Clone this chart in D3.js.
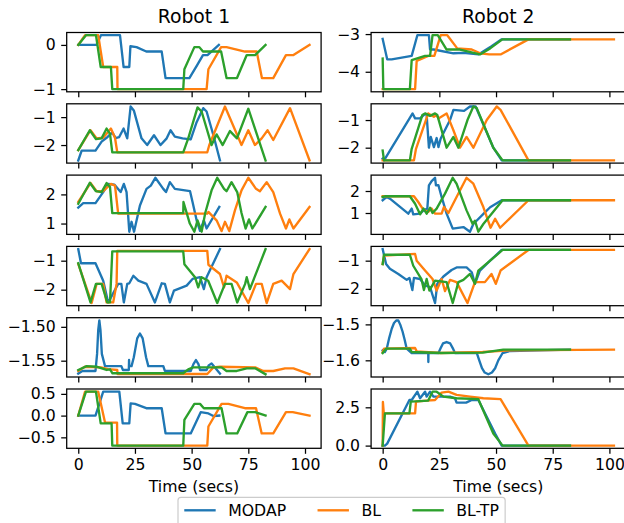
<!DOCTYPE html>
<html><head><meta charset="utf-8">
<script src="https://cdn.jsdelivr.net/npm/d3@7"></script>
<style>
html,body{margin:0;padding:0;background:#fff;}
svg{display:block;font-family:"DejaVu Sans",sans-serif;}
</style></head>
<body><svg id="c" width="624" height="523"></svg>
<script>
// ---------- data ----------
const seriesNames = ["MODAP","BL","BL-TP"];
const colors = ["#1f77b4","#ff7f0e","#2ca02c"];
const columnTitles = ["Robot 1","Robot 2"];
const xTicks = [0,25,50,75,100];
const xLabel = "Time (secs)";

// Robot 1
const r1p1_MODAP = [[0,0],[8,0],[10,0.22],[18.4,0.22],[20,-0.5],[22.5,-0.5],[23,-0.03],[25.7,-0.05],[30,-0.15],[36.8,-0.15],[38.5,-0.75],[49,-0.75],[52.5,-0.45],[55,-0.23],[57,-0.23],[62,0]];
const r1p1_BL = [[0,0],[3,0.22],[8.8,0.22],[11,-0.5],[17.2,-0.5],[17.3,-1],[56.6,-1],[57.4,-0.55],[63,-0.05],[65.4,-0.05],[73.5,-0.15],[78.7,-0.15],[81,-0.75],[86,-0.75],[91.6,-0.23],[94.9,-0.23],[102,0]];
const r1p1_BLTP = [[0,0],[3.4,0.22],[7.8,0.22],[9.9,-0.5],[14.4,-0.5],[15,-1],[46.3,-1],[46.8,-0.55],[51.2,-0.05],[53.4,-0.05],[55,-0.15],[63,-0.15],[65.4,-0.75],[70,-0.75],[74.3,-0.23],[78,-0.23],[82.6,0]];
const r1p1_yticks = [0,-1], r1p1_ylabels = ["0","\u22121"];

const r1p2_MODAP = [[0,-2.55],[1.5,-2.2],[7.6,-2.2],[10.3,-1.88],[12.5,-1.74],[15,-1.55],[16.5,-1.75],[18,-1.72],[20,-1.41],[21.6,-1.76],[23.1,-0.62],[24.5,-0.76],[27.9,-1.76],[30.4,-2],[33.4,-1.65],[36.3,-2],[39,-1.76],[40.7,-1.47],[42.6,-1.7],[46,-1.76],[49.6,-1.8],[52.2,-1.18],[55.1,-0.68],[56.6,-0.8],[59.6,-1.65],[62.5,-2.55]];
const r1p2_BL = [[0,-2.18],[5.4,-1.47],[8.1,-1.76],[11,-1.74],[14.4,-1.41],[16.2,-1.74],[17.2,-2.26],[56.9,-2.26],[57.8,-2],[64.7,-0.62],[72,-2],[75,-1.47],[77.9,-2],[80.9,-1.76],[83.5,-1.47],[86,-1.82],[93.4,-0.68],[102,-2.55]];
const r1p2_BLTP = [[0,-2.18],[5.1,-1.47],[7.8,-1.79],[10.3,-1.76],[12.5,-1.41],[14,-1.6],[15,-2.26],[46.3,-2.26],[48.5,-1.76],[52.6,-0.65],[54.4,-0.8],[58.8,-2],[61,-1.62],[63.7,-2],[66.9,-1.5],[70,-1.76],[75,-0.7],[82.6,-2.55]];
const r1p2_yticks = [-1,-2], r1p2_ylabels = ["\u22121","\u22122"];

const r1p3_MODAP = [[0,1.55],[2.2,1.7],[7.6,1.7],[11,2.08],[13.2,2.36],[16,2.33],[18.7,2.08],[20.1,2.36],[21.3,2.08],[22.5,0.72],[23.5,1.06],[24.6,0.72],[27.2,1.62],[30.1,2.19],[32,2.3],[34,2.57],[37.5,2.19],[38.7,2.08],[40.4,2.42],[42.6,2.19],[49.3,2.11],[50.4,1.74],[52.2,1.11],[53.7,0.75],[55.4,1.11],[56.6,0.83],[62.2,1.57]];
const r1p3_BL = [[0,1.74],[5.4,2.39],[8.1,2.11],[11,2.11],[14.4,2.36],[16.2,2.3],[17.6,1.34],[56.9,1.34],[57.4,1.4],[61,1.11],[63.2,0.74],[64.7,1.06],[66.6,0.74],[69.1,1.45],[72,2.14],[75,2.57],[78.4,2.19],[80.1,2.11],[83.1,2.42],[86,2.08],[89,1.34],[91.6,0.83],[93.1,1.14],[94.9,0.83],[102,1.57]];
const r1p3_BLTP = [[0,1.68],[5.1,2.4],[7.8,2.11],[10.3,2.08],[12.5,2.39],[14,2.25],[15,1.36],[46.3,1.36],[46.4,1.74],[49.2,1.0],[51.2,0.72],[52.6,1.11],[54.4,0.72],[56,1.36],[58.8,2.14],[61.3,2.57],[64.3,2.19],[65.4,2.11],[67.6,2.42],[70.1,2.08],[72,1.36],[73.8,0.83],[75.3,1.14],[76.8,0.83],[82.6,1.57]];
const r1p3_yticks = [2,1], r1p3_ylabels = ["2","1"];

const r1p4_MODAP = [[0,-0.6],[1.2,-1.09],[7.6,-1.09],[11,-1.69],[13.2,-2.44],[14,-2.33],[17.6,-1.8],[19,-1.8],[20.1,-2.44],[21.6,-1.8],[22.5,-1.78],[24.3,-1.52],[26.5,-1.69],[30.1,-1.8],[33.8,-2.44],[36.8,-1.78],[38.2,-1.8],[40.4,-2.44],[42.2,-2.03],[47.8,-1.86],[50.4,-1.63],[53.7,-1.57],[55.4,-1.98],[56.6,-1.57],[62.5,-0.6]];
const r1p4_BL = [[0,-1.11],[5.9,-2.46],[8.1,-1.8],[11,-1.8],[12.5,-2.44],[15.4,-2.44],[16.9,-1.8],[17.2,-0.66],[56.9,-0.66],[57.4,-1.14],[62.5,-1.46],[64.3,-1.92],[65.4,-1.52],[69.9,-1.75],[75,-2.46],[78.4,-1.8],[80.9,-1.8],[83.1,-2.46],[86,-1.8],[89.7,-1.69],[93.4,-1.98],[94.9,-1.46],[102,-0.6]];
const r1p4_BLTP = [[0,-1.09],[5.4,-2.44],[7.8,-1.8],[10.3,-1.8],[12.8,-2.44],[14,-2.44],[15,-0.68],[46.3,-0.68],[46.8,-1.12],[51.5,-1.57],[52.9,-1.92],[54.4,-1.57],[57.3,-1.69],[61.3,-2.46],[64.7,-1.8],[67.6,-1.8],[70.1,-2.44],[73.6,-1.8],[74.3,-1.57],[75.7,-1.98],[82.6,-0.6]];
const r1p4_yticks = [-1,-2], r1p4_ylabels = ["\u22121","\u22122"];

const r1p5_MODAP = [[0,-1.569],[1.8,-1.5652],[7.6,-1.5652],[8.3,-1.54],[8.8,-1.505],[9.3,-1.4905],[9.8,-1.505],[10.4,-1.54],[11.8,-1.558],[19,-1.558],[19.7,-1.5637],[22.3,-1.5637],[22.4,-1.549],[22.5,-1.558],[23.5,-1.558],[24.5,-1.545],[26,-1.517],[27.2,-1.5098],[28.4,-1.517],[29.9,-1.545],[30.9,-1.558],[37.5,-1.558],[38.2,-1.5652],[49.6,-1.5652],[50.8,-1.555],[51.9,-1.549],[53,-1.555],[53.7,-1.5637],[56.6,-1.5637],[57.5,-1.557],[58.8,-1.554],[60,-1.559],[62.5,-1.569]];
const r1p5_BL = [[0,-1.5652],[2.9,-1.559],[10,-1.5598],[13.2,-1.5625],[17.2,-1.5637],[17.3,-1.5696],[56.9,-1.5696],[59.6,-1.5598],[62.5,-1.559],[78,-1.5598],[81.6,-1.5652],[86,-1.5652],[91.2,-1.5613],[94.9,-1.5613],[102,-1.5701]];
const r1p5_BLTP = [[0,-1.5637],[3.7,-1.558],[8.3,-1.559],[12.5,-1.5637],[14,-1.5627],[15.1,-1.5686],[46.3,-1.5686],[48.5,-1.5627],[50.7,-1.5598],[63.2,-1.5598],[65.4,-1.5652],[69.9,-1.5652],[74.3,-1.5613],[78,-1.5613],[82.6,-1.5701]];
const r1p5_yticks = [-1.50,-1.55], r1p5_ylabels = ["\u22121.50","\u22121.55"];

const r1p6_MODAP = [[0,0],[7.6,0],[11,0.55],[18.1,0.55],[19.6,-0.18],[22.5,-0.18],[23.1,0.28],[25,0.27],[30,0.17],[36.8,0.17],[38.5,-0.41],[49.6,-0.41],[54,0.08],[57.4,0.05],[59.6,-0.01],[62.2,0]];
const r1p6_BL = [[0,0],[3,0.55],[8.8,0.55],[11.8,-0.16],[17.1,-0.16],[17.2,-0.69],[56.9,-0.69],[57.4,-0.25],[63.2,0.27],[66.2,0.27],[73.5,0.17],[78.4,0.17],[80.9,-0.41],[86,-0.41],[91.6,0.08],[94.6,0.08],[102,0]];
const r1p6_BLTP = [[0,0],[3.4,0.55],[7.8,0.55],[9.9,-0.18],[14.7,-0.18],[15,-0.69],[46.3,-0.69],[46.8,-0.1],[51.2,0.27],[53.7,0.27],[55.4,0.17],[63.2,0.17],[65.4,-0.41],[70.1,-0.41],[74.6,0.08],[78,0.08],[82.6,0]];
const r1p6_yticks = [0.5,0,-0.5], r1p6_ylabels = ["0.5","0.0","\u22120.5"];

// Robot 2
const r2p1_MODAP = [[0,-3.13],[2,-3.67],[4,-3.67],[12.8,-3.58],[15.3,-3.03],[20.4,-3.03],[20.9,-3.41],[22.5,-3.41],[31.2,-3.51],[35.6,-3.5],[42.2,-3.54],[48,-3.32],[52.5,-3.14],[82.6,-3.14]];
const r2p1_BL = [[0,-4.46],[14.3,-4.46],[15,-3.71],[20.1,-3.58],[22.8,-3.58],[25.6,-3.03],[28.5,-3.03],[32.9,-3.38],[39.3,-3.41],[43,-3.51],[47,-3.54],[52,-3.54],[64.3,-3.14],[102,-3.14]];
const r2p1_BLTP = [[0,-3.65],[0.3,-4.46],[12,-4.46],[12.8,-3.69],[18.7,-3.58],[20.9,-3.58],[22,-3.03],[24.3,-3.03],[28.2,-3.41],[34.1,-3.41],[42.9,-3.54],[47.4,-3.38],[52.8,-3.14],[82.6,-3.14]];
const r2p1_yticks = [-3,-4], r2p1_ylabels = ["\u22123","\u22124"];

const r2p2_MODAP = [[0,-2.4],[0.6,-2.46],[13.2,-0.76],[14.3,-0.94],[16.5,-0.94],[18.7,-0.78],[19.4,-0.82],[20.4,-2],[21.2,-1.61],[22.6,-1.98],[23.8,-1.65],[24.6,-1.98],[25.6,-1.67],[29.7,-1],[31.2,-0.63],[35.9,-0.67],[38.5,-0.51],[41,-0.51],[48.8,-2],[52.5,-2.46],[82.6,-2.46]];
const r2p2_BL = [[0,-2.46],[13.8,-2.46],[14.7,-2.04],[20.1,-0.76],[22.6,-0.88],[23.8,-0.82],[24.6,-0.94],[28.2,-0.76],[31.2,-1.37],[34.1,-2],[37,-1.61],[40,-2],[45.9,-1],[50.3,-0.51],[52,-0.63],[64.3,-2.46],[102,-2.46]];
const r2p2_BLTP = [[0,-2.1],[0.6,-2.46],[12,-2.46],[12.8,-2.04],[17.5,-0.82],[18.7,-0.76],[20.9,-0.85],[23.1,-0.76],[24.1,-0.82],[28.2,-2],[31.2,-1.61],[33.4,-2],[37.4,-1],[40,-0.51],[41.5,-0.57],[48.8,-2],[52.9,-2.46],[82.6,-2.46]];
const r2p2_yticks = [-1,-2], r2p2_ylabels = ["\u22121","\u22122"];

const r2p3_MODAP = [[0,1.58],[1.8,1.73],[3.2,1.65],[11.3,0.97],[12.8,1.2],[13.5,0.94],[16.5,0.97],[18,1.12],[19.7,1.2],[20.4,2.26],[21.6,2.45],[23.1,2.6],[23.5,2.26],[24.6,2.26],[26,1.73],[28.2,0.97],[30.9,0.29],[35.6,0.36],[38.5,0.15],[40,0.5],[45.1,1.03],[47.4,1.26],[52.5,1.58],[82.6,1.58]];
const r2p3_BL = [[0,1.76],[13.8,1.76],[15.7,1.5],[17.9,1.15],[20.1,1.05],[21.6,1.2],[23.1,0.97],[26,0.97],[27,1.27],[29,1.0],[32.6,1.73],[37,2.6],[40,2.33],[44.4,1.27],[47.6,0.33],[49.6,0.74],[51.8,0.33],[64.3,1.58],[102,1.58]];
const r2p3_BLTP = [[0,1.73],[1,1.76],[12,1.76],[14.3,1.42],[16.5,0.94],[18,1.2],[19.4,0.97],[20.9,1.24],[22,1.0],[23.8,1.2],[27.5,1.88],[30.9,2.6],[32.6,2.33],[37,1.12],[39.7,0.5],[40.7,0.65],[42.2,0.15],[44.4,0.5],[52.9,1.58],[82.6,1.58]];
const r2p3_yticks = [2,1], r2p3_ylabels = ["2","1"];

const r2p4_MODAP = [[0,-0.59],[1.5,-1.12],[3.2,-1.29],[6.9,-1.47],[10.6,-1.68],[11.8,-1.61],[13.1,-2.04],[13.8,-1.61],[16.5,-1.65],[18.7,-1.88],[20.9,-1.94],[23.1,-2.5],[24.1,-1.82],[26.8,-1.56],[30.4,-1.33],[32.6,-1.24],[37,-1.24],[39.3,-1.41],[40.7,-1.82],[42.9,-1.35],[47.4,-1],[52.5,-0.62],[82.6,-0.62]];
const r2p4_BL = [[0,-1.12],[0.6,-0.82],[14.3,-0.76],[15,-1],[18.7,-1.35],[22,-1.65],[23.8,-2.06],[26,-1.65],[27.5,-2.08],[29.7,-1.68],[32.6,-1.76],[37.4,-2.5],[40.7,-1.76],[45.1,-1.76],[48,-1.47],[49.9,-1.82],[52,-1.35],[64.3,-0.62],[102,-0.62]];
const r2p4_BLTP = [[0,-1.12],[0.6,-0.79],[12,-0.79],[13.5,-1.18],[17.1,-1.65],[18.2,-2.04],[19.4,-1.65],[20.6,-2.06],[23.1,-1.71],[28.2,-1.76],[30.9,-2.5],[33.4,-1.76],[35.6,-1.68],[38.5,-1.47],[40.7,-1.82],[42.2,-1.35],[47.4,-1],[52.9,-0.62],[82.6,-0.62]];
const r2p4_yticks = [-1,-2], r2p4_ylabels = ["\u22121","\u22122"];

const r2p5_MODAP = [[0,-1.5722],[1,-1.5769],[1.8,-1.5676],[2.9,-1.5374],[4,-1.512],[5,-1.496],[6,-1.4891],[6.9,-1.4889],[7.8,-1.5014],[8.8,-1.5205],[9.7,-1.5427],[10.6,-1.5676],[12.8,-1.5796],[20.1,-1.5796],[20.15,-1.6046],[20.2,-1.5796],[24.6,-1.5796],[25.6,-1.566],[26.6,-1.553],[28.2,-1.5491],[29.8,-1.553],[30.9,-1.566],[31.9,-1.5796],[41.5,-1.5796],[42.6,-1.6],[43.8,-1.622],[45,-1.634],[46.6,-1.6389],[48.2,-1.634],[49.6,-1.622],[51,-1.6],[52.9,-1.5796],[56.2,-1.574],[82.6,-1.5704]];
const r2p5_BL = [[0,-1.5769],[0.6,-1.5676],[14.3,-1.5657],[15,-1.575],[25.6,-1.5796],[44.1,-1.5769],[55.9,-1.5722],[102,-1.5704]];
const r2p5_BLTP = [[0,-1.5796],[1.5,-1.5676],[12,-1.5676],[12.8,-1.5769],[25.6,-1.5796],[44.1,-1.5787],[53.2,-1.5704],[82.6,-1.5704]];
const r2p5_yticks = [-1.5,-1.6], r2p5_ylabels = ["\u22121.5","\u22121.6"];

const r2p6_MODAP = [[0,0],[1,0],[2,0.13],[11.8,2.98],[12.8,2.98],[15.3,3.52],[16.5,3.09],[18.7,3.52],[19.4,3.2],[20.9,3.52],[22.4,3.2],[29.7,3.2],[31.9,3.09],[32.6,2.81],[36.8,2.81],[39.3,2.98],[42.2,2.98],[49.6,0.79],[52.5,0],[82.6,0]];
const r2p6_BL = [[0,0],[0.1,2.85],[0.5,2.1],[14.3,2.1],[14.7,2.87],[19.4,2.94],[23.1,2.98],[26,3.46],[29,3.52],[32.6,3.31],[38.5,3.2],[44.4,3.09],[52,3.03],[64.3,0],[102,0]];
const r2p6_BLTP = [[0,0],[1,2.1],[11.8,2.1],[12.4,2.87],[20.1,2.94],[22,3.52],[23.8,3.52],[26.8,3.2],[32.6,3.09],[42.2,3.03],[48.8,0.79],[52.9,0],[82.6,0]];
const r2p6_yticks = [2.5,0], r2p6_ylabels = ["2.5","0.0"];

// ---------- panels ----------
const panels = [
  [[r1p1_MODAP,r1p1_BL,r1p1_BLTP],r1p1_yticks,r1p1_ylabels],
  [[r1p2_MODAP,r1p2_BL,r1p2_BLTP],r1p2_yticks,r1p2_ylabels],
  [[r1p3_MODAP,r1p3_BL,r1p3_BLTP],r1p3_yticks,r1p3_ylabels],
  [[r1p4_MODAP,r1p4_BL,r1p4_BLTP],r1p4_yticks,r1p4_ylabels],
  [[r1p5_MODAP,r1p5_BL,r1p5_BLTP],r1p5_yticks,r1p5_ylabels],
  [[r1p6_MODAP,r1p6_BL,r1p6_BLTP],r1p6_yticks,r1p6_ylabels],
  [[r2p1_MODAP,r2p1_BL,r2p1_BLTP],r2p1_yticks,r2p1_ylabels],
  [[r2p2_MODAP,r2p2_BL,r2p2_BLTP],r2p2_yticks,r2p2_ylabels],
  [[r2p3_MODAP,r2p3_BL,r2p3_BLTP],r2p3_yticks,r2p3_ylabels],
  [[r2p4_MODAP,r2p4_BL,r2p4_BLTP],r2p4_yticks,r2p4_ylabels],
  [[r2p5_MODAP,r2p5_BL,r2p5_BLTP],r2p5_yticks,r2p5_ylabels],
  [[r2p6_MODAP,r2p6_BL,r2p6_BLTP],r2p6_yticks,r2p6_ylabels]
];

// ---------- layout ----------
const svg = d3.select("#c");
const FS = 15.7, TFS = 18.8, LW = 2.35, SW = 1.26, TL = 5.5, TP = 5.5;
const colLeft = [66.7, 371.1], axW = 254.4;
const rowTop0 = 32.5, rowStep = 71.3, axH = 59.3;

const allX = panels.flatMap(p => p[0].flatMap(s => s.map(d => d[0])));
const xmin = d3.min(allX), xmax = d3.max(allX), xpad = (xmax - xmin) * 0.05;

panels.forEach((p, i) => {
  const col = Math.floor(i / 6), row = i % 6;
  const left = colLeft[col], top = rowTop0 + row * rowStep;
  const x = d3.scaleLinear().domain([xmin - xpad, xmax + xpad]).range([left, left + axW]);
  const ys = p[0].flatMap(s => s.map(d => d[1]));
  const ymin = d3.min(ys), ymax = d3.max(ys), ypad = (ymax - ymin) * 0.05;
  const y = d3.scaleLinear().domain([ymin - ypad, ymax + ypad]).range([top + axH, top]);
  const g = svg.append("g");
  const clipId = "clip" + i;
  g.append("clipPath").attr("id", clipId).append("rect")
    .attr("x", left).attr("y", top).attr("width", axW).attr("height", axH);
  const line = d3.line().x(d => x(d[0])).y(d => y(d[1]));
  p[0].forEach((s, k) => {
    g.append("path").attr("d", line(s)).attr("fill", "none")
      .attr("stroke", colors[k]).attr("stroke-width", LW)
      .attr("stroke-linejoin", "round").attr("stroke-linecap", "square")
      .attr("clip-path", `url(#${clipId})`);
  });
  g.append("rect").attr("x", left).attr("y", top).attr("width", axW).attr("height", axH)
    .attr("fill", "none").attr("stroke", "#000").attr("stroke-width", SW);
  const yAxis = d3.axisLeft(y).tickValues(p[1]).tickSizeInner(TL).tickSizeOuter(0).tickPadding(TP)
    .tickFormat((d, j) => p[2][j]);
  const ya = g.append("g").attr("transform", `translate(${left},0)`).call(yAxis);
  const xAxis = d3.axisBottom(x).tickValues(xTicks).tickSizeInner(TL).tickSizeOuter(0).tickPadding(TP)
    .tickFormat(row === 5 ? (d => String(d)) : (() => ""));
  const xa = g.append("g").attr("transform", `translate(0,${top + axH})`).call(xAxis);
  [ya, xa].forEach(a => {
    a.select(".domain").remove();
    a.selectAll(".tick line").attr("stroke", "#000").attr("stroke-width", SW);
    a.selectAll(".tick text").attr("fill", "#000").style("font-size", FS + "px")
      .style("font-family", "DejaVu Sans");
  });
  if (row === 0) {
    svg.append("text").attr("x", left + axW / 2).attr("y", top - 9.5)
      .attr("text-anchor", "middle").style("font-size", TFS + "px").text(columnTitles[col]);
  }
  if (row === 5) {
    svg.append("text").attr("x", left + axW / 2).attr("y", top + axH + 44)
      .attr("text-anchor", "middle").style("font-size", FS + "px").text(xLabel);
  }
});

// ---------- legend ----------
const lg = svg.append("g");
const legTop = 497.3, legLeft = 178;
const box = lg.append("rect").attr("x", legLeft).attr("y", legTop).attr("rx", 3).attr("ry", 3)
  .attr("height", 32).attr("fill", "#fff").attr("fill-opacity", 0.8)
  .attr("stroke", "#cccccc").attr("stroke-width", 1.2);
let cx = legLeft + 0.4 * FS;
const ly = legTop + 13;
seriesNames.forEach((n, k) => {
  lg.append("line").attr("x1", cx).attr("x2", cx + 2 * FS).attr("y1", ly).attr("y2", ly)
    .attr("stroke", colors[k]).attr("stroke-width", LW);
  cx += 2 * FS + 0.8 * FS;
  const t = lg.append("text").attr("x", cx).attr("y", ly + 5.6).style("font-size", FS + "px").text(n);
  cx += t.node().getComputedTextLength();
  if (k < seriesNames.length - 1) cx += 2 * FS;
});
box.attr("width", cx + 0.4 * FS - legLeft);
</script></body></html>
